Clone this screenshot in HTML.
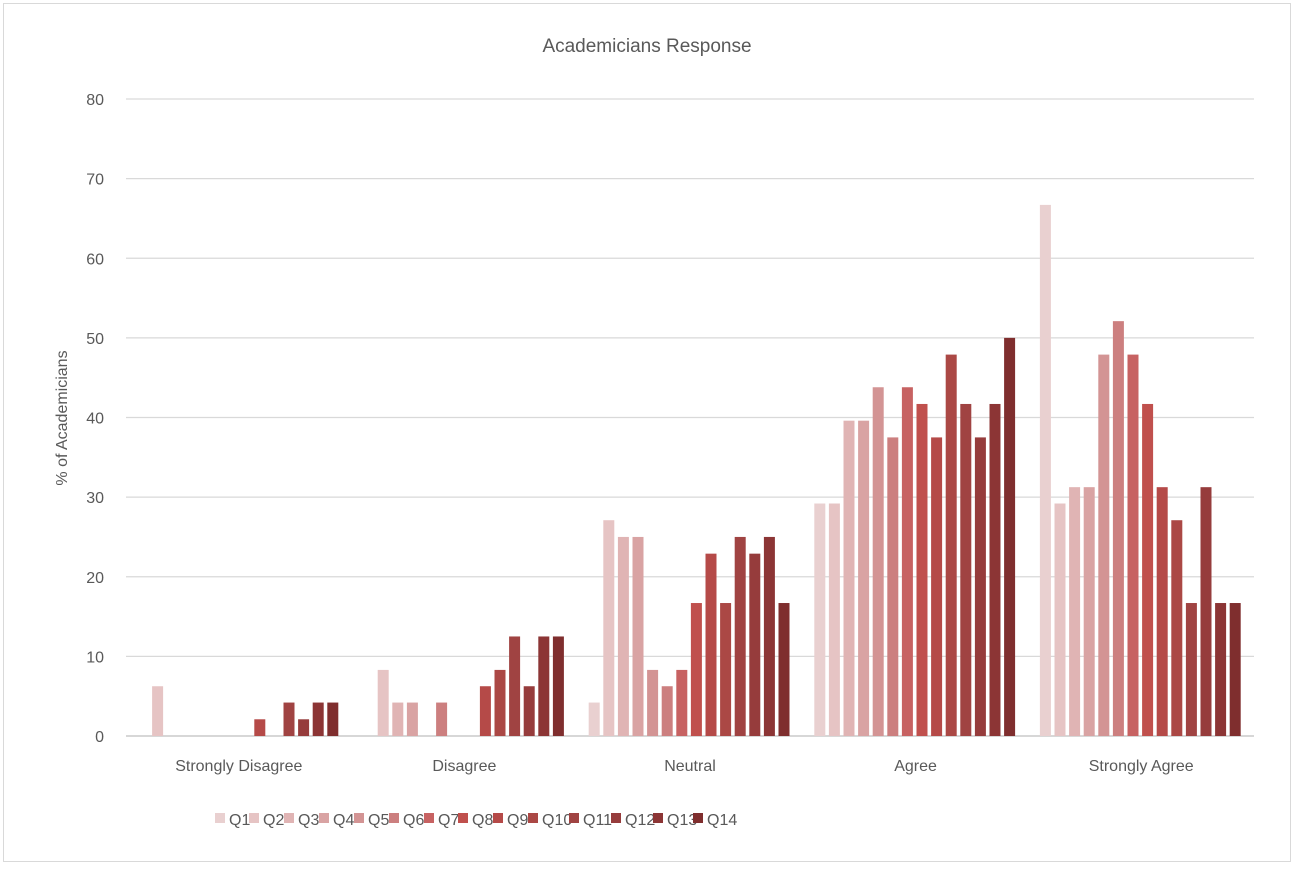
<!DOCTYPE html>
<html><head><meta charset="utf-8"><style>
body{margin:0;background:#fff;font-family:"Liberation Sans",sans-serif;}
svg text{font-family:"Liberation Sans",sans-serif;fill:#595959;}
</style></head><body>
<svg width="1294" height="868">
<rect x="3.5" y="3.5" width="1287" height="858" fill="#fff" stroke="#d9d9d9"/>
<text x="647" y="52" text-anchor="middle" font-size="19">Academicians Response</text>
<text transform="translate(67,418) rotate(-90)" text-anchor="middle" font-size="16">% of Academicians</text>
<g id="grid"></g><g id="bars"></g><g id="labels"></g><g id="legend"></g>
</svg>
<script>
const categories=["Strongly Disagree","Disagree","Neutral","Agree","Strongly Agree"];
const seriesNames=["Q1","Q2","Q3","Q4","Q5","Q6","Q7","Q8","Q9","Q10","Q11","Q12","Q13","Q14"];
const Q1=[0,0,4.2,29.2,66.7];
const Q2=[6.25,8.3,27.1,29.2,29.2];
const Q3=[0,4.2,25,39.6,31.25];
const Q4=[0,4.2,25,39.6,31.25];
const Q5=[0,0,8.3,43.8,47.9];
const Q6=[0,4.2,6.25,37.5,52.1];
const Q7=[0,0,8.3,43.8,47.9];
const Q8=[0,0,16.7,41.7,41.7];
const Q9=[2.1,6.25,22.9,37.5,31.25];
const Q10=[0,8.3,16.7,47.9,27.1];
const Q11=[4.2,12.5,25,41.7,16.7];
const Q12=[2.1,6.25,22.9,37.5,31.25];
const Q13=[4.2,12.5,25,41.7,16.7];
const Q14=[4.2,12.5,16.7,50,16.7];
const seriesValues=[Q1,Q2,Q3,Q4,Q5,Q6,Q7,Q8,Q9,Q10,Q11,Q12,Q13,Q14];
const yTicks=[0,10,20,30,40,50,60,70,80];
const colors=["#e9d0d0","#e6c4c4","#e0b4b4","#d9a3a3","#d39494","#cc7f7f","#c76262","#c0504d","#b54a48","#ab4845","#a04342","#963c3c","#8c3535","#7f2e2e"];
const NS="http://www.w3.org/2000/svg";
const X0=126,X1=1254,Y0=736,Y80=99;
const y=v=>Y0-(v/80)*(Y0-Y80);
const gw=(X1-X0)/categories.length;
const step=14.6,bw=11;
const bx=(c,s)=>X0+c*gw+17+s*step-bw/2;
function mk(t,a,p){const e=document.createElementNS(NS,t);for(const k in a)e.setAttribute(k,a[k]);p.appendChild(e);return e;}
const grid=document.getElementById('grid');
yTicks.forEach(t=>{
 const l=mk('line',{x1:X0,x2:X1,y1:y(t),y2:y(t),stroke:t===0?'#bfbfbf':'#d9d9d9','stroke-width':1.3},grid);
 
 
 const tx=mk('text',{x:104,y:y(t)+6,'text-anchor':'end','font-size':16},grid);tx.textContent=t;
 
 
});
const bars=document.getElementById('bars');
seriesValues.forEach((arr,s)=>arr.forEach((v,c)=>{
 if(v<=0)return;
 const r=mk('rect',{x:bx(c,s),y:y(v),width:bw,height:Y0-y(v),fill:colors[s]},bars);
 
 
}));
const labels=document.getElementById('labels');
categories.forEach((c,i)=>{
 const t=mk('text',{x:X0+gw*(i+0.5),y:771,'text-anchor':'middle','font-size':16},labels);t.textContent=c;
 
 
});
const legX=[209,243,278,313,348,383,418,452,487,522,563,605,647,687];
const leg=document.getElementById('legend');
seriesNames.forEach((n,i)=>{
 const g=mk('g',{},leg);
 
 
 mk('rect',{x:legX[i]+6,y:813,width:10,height:10,fill:colors[i]},g);
 const t=mk('text',{x:legX[i]+20,y:825,'font-size':16},g);t.textContent=n;
});
</script>
</body></html>
